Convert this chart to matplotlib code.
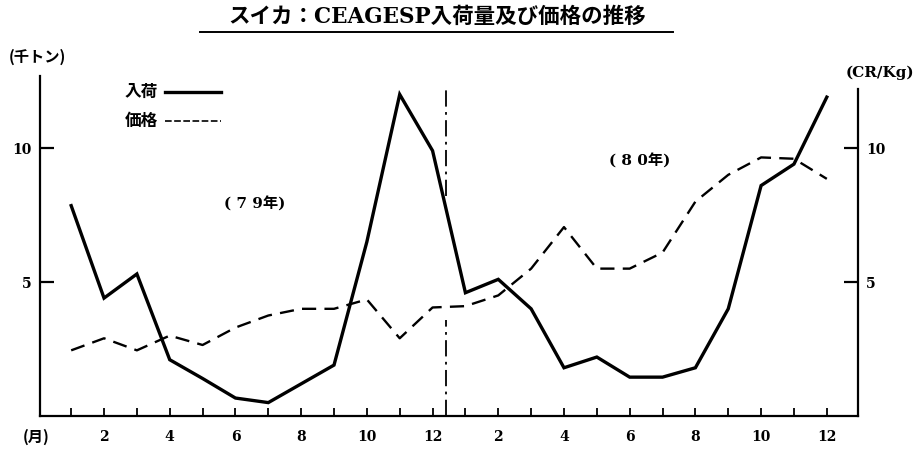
import matplotlib
matplotlib.use("Agg")
from matplotlib import pyplot as plt

plt.rcParams['font.family'] = ['Noto Sans CJK JP', 'DejaVu Sans']

# months Jan 1979 .. Dec 1980 as a running index 1..24
months = list(range(1, 25))
monthLabels = ['', '2', '', '4', '', '6', '', '8', '', '10', '', '12'] * 2

# arrivals at CEAGESP (thousand tons)
arrivals = [7.85, 4.4, 5.3, 2.1, 1.4, 0.67, 0.5, 1.2, 1.9, 6.5, 12.0, 9.9,
            4.6, 5.1, 4.0, 1.8, 2.2, 1.45, 1.45, 1.8, 4.0, 8.6, 9.4, 11.9]

# price (Cr$/kg)
price = [2.45, 2.9, 2.45, 3.0, 2.65, 3.3, 3.75, 4.0, 4.0, 4.35, 2.9, 4.05,
         4.1, 4.5, 5.5, 7.05, 5.5, 5.5, 6.1, 8.0, 9.0, 9.65, 9.6, 8.85]

serifBold = {'family': 'DejaVu Serif', 'weight': 'bold', 'size': 10}
# serif for latin letters and digits, CJK font for the rest
mixed = ['DejaVu Serif', 'Noto Sans CJK JP']

fig = plt.figure(figsize=(9.23, 4.54), dpi=100)
ax = fig.add_axes([0.0433, 0.0837, 0.8863, 0.7555])

ax.plot(months, arrivals, color='black', linewidth=2.4,
        solid_joinstyle='miter')
ax.plot(months, price, color='black', linewidth=1.7,
        dashes=(6, 3.5))

ax.set_xlim(0.05, 24.95)
ax.set_ylim(0, 12.8)

# dash-dot line splitting 1979 from 1980, broken where the arrivals cross it
ax.axvline(12.4, ymin=0.64, ymax=0.965, color='black', linewidth=1.3,
           dashes=(9, 3, 1.5, 3))
ax.axvline(12.4, ymin=0.0, ymax=0.28, color='black', linewidth=1.3,
           dashes=(9, 3, 1.5, 3))

ax.spines['top'].set_visible(False)
ax.spines['left'].set_bounds(0, 12.7)
ax.spines['right'].set_bounds(0, 12.2)
for side in ['left', 'right', 'bottom']:
    ax.spines[side].set_linewidth(1.6)

ax.set_xticks(months)
ax.set_xticklabels(monthLabels, fontdict=serifBold)
ax.tick_params(axis='x', direction='in', length=6, width=1.3, pad=10)

ax.set_yticks([5, 10])
ax.set_yticklabels(['5', '10'], fontdict=serifBold)
ax.tick_params(axis='y', direction='in', length=10, width=1.6, pad=6,
               left=True, right=True, labelleft=True, labelright=True)

# legend drawn as text with short line samples
ax.text(2.62, 12.1, '入荷', fontsize=12, fontweight='bold', va='center')
ax.plot([3.85, 5.55], [12.1, 12.1], color='black', linewidth=2.4)
ax.text(2.62, 11.0, '価格', fontsize=12, fontweight='bold', va='center')
ax.plot([3.85, 5.55], [11.0, 11.0], color='black', linewidth=1.2,
        dashes=(4, 1.5))

ax.text(6.6, 7.9, '( 7 9年)', fontsize=11, fontweight='bold', ha='center',
        va='center', family=mixed)
ax.text(18.3, 9.5, '( 8 0年)', fontsize=11, fontweight='bold', ha='center',
        va='center', family=mixed)

fig.text(0.041, 0.875, '(千トン)', fontsize=11, fontweight='bold',
         ha='center', va='center')
fig.text(0.953, 0.84, '(CR/Kg)', fontsize=11, fontweight='bold',
         ha='center', va='center', family=mixed)
fig.text(0.039, 0.037, '(月)', fontsize=11, fontweight='bold',
         ha='center', va='center')

fig.text(0.474, 0.962, 'スイカ：CEAGESP入荷量及び価格の推移', fontsize=15.5,
         fontweight='bold', ha='center', va='center', family=mixed)
fig.add_artist(plt.Line2D([0.217, 0.729], [0.929, 0.929], color='black',
                          linewidth=1.4, transform=fig.transFigure))

fig.savefig('out.png', dpi=100, facecolor='white')
